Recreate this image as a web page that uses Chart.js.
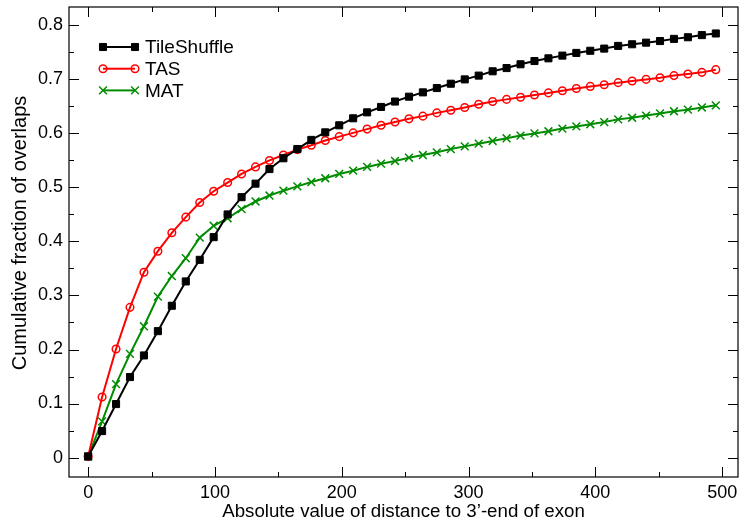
<!DOCTYPE html>
<html><head><meta charset="utf-8">
<script src="https://cdn.jsdelivr.net/npm/chart.js@4/dist/chart.umd.min.js"></script>
<style>html,body{margin:0;padding:0;background:#fff}</style>
</head><body>
<canvas id="c" width="740" height="527"></canvas>
<script>
const distances = [0,11,22,33,44,55,66,77,88,99,110,121,132,143,154,165,176,187,198,209,220,231,242,253,264,275,286,297,308,319,330,341,352,363,374,385,396,407,418,429,440,451,462,473,484,495];
const tileShuffle = [0.002,0.049,0.099,0.149,0.189,0.234,0.281,0.326,0.366,0.408,0.450,0.482,0.507,0.534,0.554,0.571,0.588,0.602,0.615,0.628,0.639,0.649,0.659,0.668,0.676,0.684,0.692,0.700,0.707,0.715,0.721,0.728,0.734,0.739,0.744,0.749,0.753,0.757,0.762,0.765,0.768,0.771,0.775,0.778,0.782,0.785];
const tas = [0.002,0.112,0.201,0.278,0.343,0.382,0.416,0.445,0.472,0.493,0.509,0.525,0.538,0.550,0.560,0.570,0.578,0.587,0.594,0.601,0.608,0.615,0.621,0.627,0.632,0.638,0.643,0.648,0.654,0.659,0.663,0.667,0.671,0.675,0.679,0.683,0.687,0.690,0.694,0.697,0.700,0.703,0.707,0.710,0.713,0.718];
const mat = [0.002,0.067,0.136,0.192,0.243,0.298,0.336,0.369,0.407,0.429,0.443,0.460,0.474,0.485,0.494,0.502,0.510,0.517,0.525,0.531,0.538,0.544,0.549,0.555,0.560,0.565,0.571,0.576,0.581,0.586,0.591,0.596,0.600,0.604,0.609,0.613,0.617,0.621,0.626,0.629,0.633,0.637,0.641,0.644,0.648,0.652];
const seriesNames = ['TileShuffle','TAS','MAT'];
const xMajorTicks = [0,100,200,300,400,500];
const xMinorTicks = [50,150,250,350,450];
const yMajorTicks = [0,0.1,0.2,0.3,0.4,0.5,0.6,0.7,0.8];
const yMinorTicks = [0.05,0.15,0.25,0.35,0.45,0.55,0.65,0.75];
const xTitle = 'Absolute value of distance to 3\u2019-end of exon';
const yTitle = 'Cumulative fraction of overlaps';

const FONT = 'Liberation Sans, Arial, Helvetica, sans-serif';
const toPts = ys => ys.map((y,i)=>({x:distances[i], y}));

const styles = [
  {color:'#000000', pointStyle:'rect', radius:5, fill:'#000000', bw:1},
  {color:'#ff0000', pointStyle:'circle', radius:3.8, fill:'rgba(0,0,0,0)', bw:1.5},
  {color:'#008c00', pointStyle:'crossRot', radius:5.5, fill:'#008c00', bw:1.5}
];
const allData = [tileShuffle, tas, mat];
const datasets = allData.map((d,i)=>({
  label: seriesNames[i],
  data: toPts(d),
  borderColor: styles[i].color,
  backgroundColor: styles[i].fill,
  borderWidth: 2,
  pointStyle: styles[i].pointStyle,
  pointRadius: styles[i].radius,
  pointBorderWidth: styles[i].bw,
  pointBorderColor: styles[i].color,
  pointBackgroundColor: styles[i].fill,
  tension: 0,
  fill: false
}));

const zeroPad = () => ({left:0, top:0, right:0, bottom:0});
const PLOT_RIGHT_GAP = 2;

const framePlugin = {
  id:'frame',
  afterLayout(chart){
    const target = chart.width - PLOT_RIGHT_GAP;
    const a = chart.chartArea, xs = chart.scales.x;
    if (a.right < target) {
      a.right = target; a.width = target - a.left;
      xs.right = target; xs.width = target - xs.left; xs.configure();
    }
  },
  afterDraw(chart){
    const ctx = chart.ctx, a = chart.chartArea;
    const xs = chart.scales.x, ys = chart.scales.y;
    ctx.save();
    ctx.strokeStyle = '#000'; ctx.lineWidth = 1.2;
    ctx.strokeRect(a.left, a.top, a.right-a.left, a.bottom-a.top);
    ctx.beginPath();
    const drawX = (v,len)=>{ const p = Math.round(xs.getPixelForValue(v))+0.5;
      ctx.moveTo(p,a.bottom); ctx.lineTo(p,a.bottom-len);
      ctx.moveTo(p,a.top); ctx.lineTo(p,a.top+len); };
    const drawY = (v,len)=>{ const p = Math.round(ys.getPixelForValue(v))+0.5;
      ctx.moveTo(a.left,p); ctx.lineTo(a.left+len,p);
      ctx.moveTo(a.right,p); ctx.lineTo(a.right-len,p); };
    xMajorTicks.forEach(v=>drawX(v,10)); xMinorTicks.forEach(v=>drawX(v,5));
    yMajorTicks.forEach(v=>drawY(v,10)); yMinorTicks.forEach(v=>drawY(v,5));
    ctx.lineWidth = 1; ctx.stroke();

    // y axis title
    ctx.save();
    ctx.translate(20, a.top + (a.bottom - a.top)/2 - 9);
    ctx.rotate(-Math.PI/2);
    ctx.fillStyle = '#000'; ctx.font = '20px ' + FONT;
    ctx.textAlign = 'center'; ctx.textBaseline = 'middle';
    ctx.fillText(yTitle, 0, 0);
    ctx.restore();

    // legend
    const lx0 = a.left+34, lx1 = a.left+66, tx = a.left+76;
    chart.data.datasets.forEach((ds,i)=>{
      const y = a.top + 40 + i*21.7;
      ctx.beginPath(); ctx.strokeStyle = ds.borderColor; ctx.lineWidth = 2;
      ctx.moveTo(lx0,y); ctx.lineTo(lx1,y); ctx.stroke();
      ctx.strokeStyle = ds.pointBorderColor; ctx.fillStyle = ds.pointBackgroundColor;
      ctx.lineWidth = ds.pointBorderWidth;
      const opts = {pointStyle: ds.pointStyle, radius: ds.pointRadius, rotation:0, borderWidth: ds.pointBorderWidth};
      Chart.helpers.drawPoint(ctx, opts, lx0, y);
      Chart.helpers.drawPoint(ctx, opts, lx1, y);
      ctx.fillStyle = '#000'; ctx.font = '19px ' + FONT; ctx.textBaseline = 'middle'; ctx.textAlign='left';
      ctx.fillText(ds.label, tx, y+1);
    });
    ctx.restore();
  }
};

new Chart(document.getElementById('c'), {
  type:'line',
  data:{datasets},
  options:{
    responsive:false, animation:false, devicePixelRatio:1,
    layout:{padding:{top:7,right:2,left:0,bottom:0}},
    plugins:{legend:{display:false}, tooltip:{enabled:false}},
    scales:{
      x:{type:'linear', min:-15.1, max:512.5,
        afterBuildTicks: s=>{ s.ticks = xMajorTicks.map(v=>({value:v})); },
        afterFit: s=>{ s.height = 50; s.paddingLeft = 0; s.paddingRight = 0; s.getPadding = zeroPad; },
        grid:{display:false, drawTicks:false}, border:{display:false},
        ticks:{color:'#000', font:{family:FONT, size:18}, padding:5, maxRotation:0, autoSkip:false, callback:v=>String(v)},
        title:{display:true, text:xTitle, color:'#000', font:{family:FONT,size:18.7}, padding:{top:0,bottom:4}}
      },
      y:{type:'linear', min:-0.036, max:0.834,
        afterBuildTicks: s=>{ s.ticks = yMajorTicks.map(v=>({value:v})); },
        afterFit: s=>{ s.width = 69; s.paddingTop = 0; s.paddingBottom = 0; s.getPadding = zeroPad; },
        grid:{display:false, drawTicks:false}, border:{display:false},
        ticks:{color:'#000', font:{family:FONT, size:18}, padding:6, autoSkip:false, callback:v=> v===0?'0':v.toFixed(1)},
        title:{display:false, text:yTitle}
      }
    }
  },
  plugins:[framePlugin]
});
</script>
</body></html>
